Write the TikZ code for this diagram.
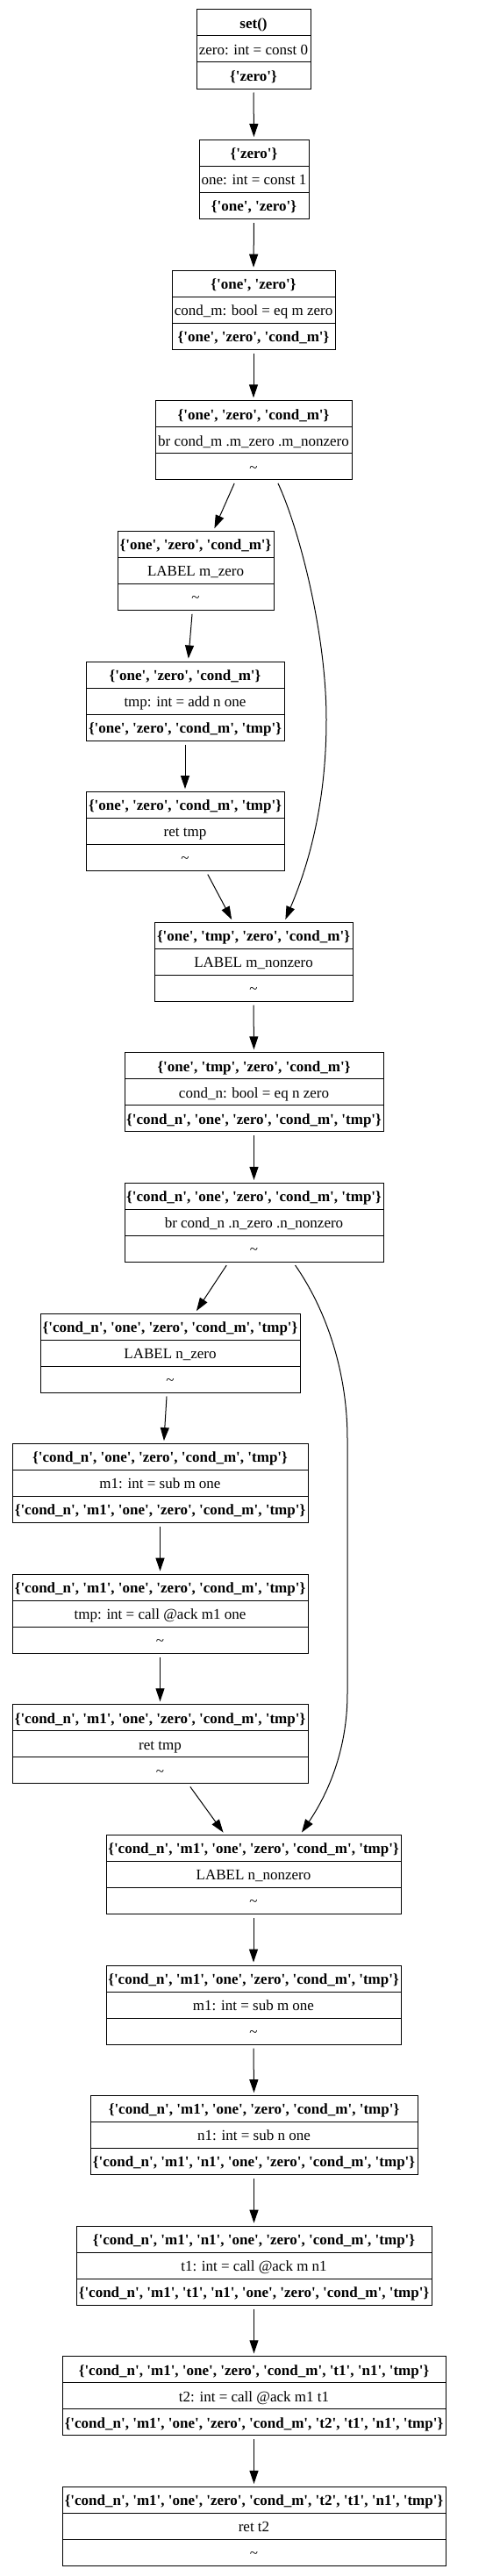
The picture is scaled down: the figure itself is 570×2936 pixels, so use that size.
\documentclass[tikz,border=0pt]{standalone}
\usepackage{fontspec}
\setmainfont{Liberation Serif}[Ligatures=TeXOff]
\usetikzlibrary{arrows.meta}
\tikzset{
  blk/.style={draw=black, line width=1pt, minimum height=90pt, inner sep=0pt, outer sep=0pt},
  txt/.style={inner sep=0pt, outer sep=0pt, text height=12.5pt, text depth=0pt, font=\fontsize{17}{20}\selectfont},
  hd/.style={txt, font=\fontsize{17}{20}\selectfont\bfseries},
  flow/.style={-{Triangle[length=15pt,width=10pt]}, line width=1pt, shorten <=4.5pt, shorten >=3.5pt}
}
\newcommand\cfgbox[7]{%
  \node[blk, minimum width=#4pt] (#1) at (#2pt,{-(#3+45)*1pt}) {};
  \draw[line width=1pt] ([yshift=-30pt]#1.north west) -- ([yshift=-30pt]#1.north east);
  \draw[line width=1pt] ([yshift=30pt]#1.south west) -- ([yshift=30pt]#1.south east);
  \node[hd] (#1-h) at ([yshift=-15pt]#1.north) {#5};
  \node[txt] (#1-m) at (#1.center) {#6};
  \node[txt] (#1-f) at ([yshift=15pt]#1.south) {#7};
}
\newcommand\tl{\textasciitilde}
\begin{document}
\begin{tikzpicture}
\useasboundingbox[fill=white] (0,0) rectangle (570pt,-2936pt);
\cfgbox{b1}{289}{11}{130}{set()}{zero: int = const 0}{\bfseries \{'zero'\}}
\cfgbox{b2}{289.5}{159.6}{125}{\{'zero'\}}{one: int = const 1}{\bfseries \{'one', 'zero'\}}
\cfgbox{b3}{289}{308.2}{186}{\{'one', 'zero'\}}{cond\_m: bool = eq m zero}{\bfseries \{'one', 'zero', 'cond\_m'\}}
\cfgbox{b4}{289}{456.8}{224}{\{'one', 'zero', 'cond\_m'\}}{br cond\_m .m\_zero .m\_nonzero}{\tl}
\cfgbox{b5}{223}{605.4}{178}{\{'one', 'zero', 'cond\_m'\}}{LABEL m\_zero}{\tl}
\cfgbox{b6}{211}{754}{226}{\{'one', 'zero', 'cond\_m'\}}{tmp: int = add n one}{\bfseries \{'one', 'zero', 'cond\_m', 'tmp'\}}
\cfgbox{b7}{211}{902.6}{226}{\{'one', 'zero', 'cond\_m', 'tmp'\}}{ret tmp}{\tl}
\cfgbox{b8}{289}{1051.2}{226}{\{'one', 'tmp', 'zero', 'cond\_m'\}}{LABEL m\_nonzero}{\tl}
\cfgbox{b9}{289.5}{1199.8}{295}{\{'one', 'tmp', 'zero', 'cond\_m'\}}{cond\_n: bool = eq n zero}{\bfseries \{'cond\_n', 'one', 'zero', 'cond\_m', 'tmp'\}}
\cfgbox{b10}{289.5}{1348.4}{295}{\{'cond\_n', 'one', 'zero', 'cond\_m', 'tmp'\}}{br cond\_n .n\_zero .n\_nonzero}{\tl}
\cfgbox{b11}{194}{1497}{296}{\{'cond\_n', 'one', 'zero', 'cond\_m', 'tmp'\}}{LABEL n\_zero}{\tl}
\cfgbox{b12}{182.5}{1645.6}{337}{\{'cond\_n', 'one', 'zero', 'cond\_m', 'tmp'\}}{m1: int = sub m one}{\bfseries \{'cond\_n', 'm1', 'one', 'zero', 'cond\_m', 'tmp'\}}
\cfgbox{b13}{182.5}{1794.2}{337}{\{'cond\_n', 'm1', 'one', 'zero', 'cond\_m', 'tmp'\}}{tmp: int = call @ack m1 one}{\tl}
\cfgbox{b14}{182.5}{1942.8}{337}{\{'cond\_n', 'm1', 'one', 'zero', 'cond\_m', 'tmp'\}}{ret tmp}{\tl}
\cfgbox{b15}{289}{2091.4}{336}{\{'cond\_n', 'm1', 'one', 'zero', 'cond\_m', 'tmp'\}}{LABEL n\_nonzero}{\tl}
\cfgbox{b16}{289}{2240}{336}{\{'cond\_n', 'm1', 'one', 'zero', 'cond\_m', 'tmp'\}}{m1: int = sub m one}{\tl}
\cfgbox{b17}{289.5}{2388.6}{373}{\{'cond\_n', 'm1', 'one', 'zero', 'cond\_m', 'tmp'\}}{n1: int = sub n one}{\bfseries \{'cond\_n', 'm1', 'n1', 'one', 'zero', 'cond\_m', 'tmp'\}}
\cfgbox{b18}{289.5}{2537.2}{405}{\{'cond\_n', 'm1', 'n1', 'one', 'zero', 'cond\_m', 'tmp'\}}{t1: int = call @ack m n1}{\bfseries \{'cond\_n', 'm1', 't1', 'n1', 'one', 'zero', 'cond\_m', 'tmp'\}}
\cfgbox{b19}{289.5}{2685.8}{437}{\{'cond\_n', 'm1', 'one', 'zero', 'cond\_m', 't1', 'n1', 'tmp'\}}{t2: int = call @ack m1 t1}{\bfseries \{'cond\_n', 'm1', 'one', 'zero', 'cond\_m', 't2', 't1', 'n1', 'tmp'\}}
\cfgbox{b20}{289.5}{2834.4}{437}{\{'cond\_n', 'm1', 'one', 'zero', 'cond\_m', 't2', 't1', 'n1', 'tmp'\}}{ret t2}{\tl}
% straight edges
\draw[flow] (b1.south) -- (b2.north);
\draw[flow] (b2.south) -- (b3.north);
\draw[flow] (b3.south) -- (b4.north);
\draw[flow] (b6.south) -- (b7.north);
\draw[flow] (b8.south) -- (b9.north);
\draw[flow] (b9.south) -- (b10.north);
\draw[flow] (b12.south) -- (b13.north);
\draw[flow] (b13.south) -- (b14.north);
\draw[flow] (b15.south) -- (b16.north);
\draw[flow] (b16.south) -- (b17.north);
\draw[flow] (b17.south) -- (b18.north);
\draw[flow] (b18.south) -- (b19.north);
\draw[flow] (b19.south) -- (b20.north);
% slanted edges
\draw[flow] ([xshift=-20pt]b4.south) -- ([xshift=20pt]b5.north);
\draw[flow] ([xshift=-3.6pt]b5.south) -- ([xshift=3.5pt]b6.north);
\draw[flow] ([xshift=23.7pt]b7.south) -- ([xshift=-23.2pt]b8.north);
\draw[flow] ([xshift=-28.8pt]b10.south) -- ([xshift=28pt]b11.north);
\draw[flow] ([xshift=-3.7pt]b11.south) -- ([xshift=4.2pt]b12.north);
\draw[flow] ([xshift=31.7pt]b14.south) -- ([xshift=-32.4pt]b15.north);
% curved edges
\draw[flow] ([xshift=26pt]b4.south) .. controls (340pt,-600pt) and (372pt,-720pt) .. (372pt,-820pt)
  .. controls (372pt,-920pt) and (350pt,-990pt) .. ([xshift=35pt]b8.north);
\draw[flow] ([xshift=44.5pt]b10.south) .. controls (370pt,-1490pt) and (396pt,-1560pt) .. (396pt,-1640pt)
  -- (396pt,-1930pt) .. controls (396pt,-2000pt) and (370pt,-2050pt) .. ([xshift=53pt]b15.north);
\end{tikzpicture}
\end{document}
